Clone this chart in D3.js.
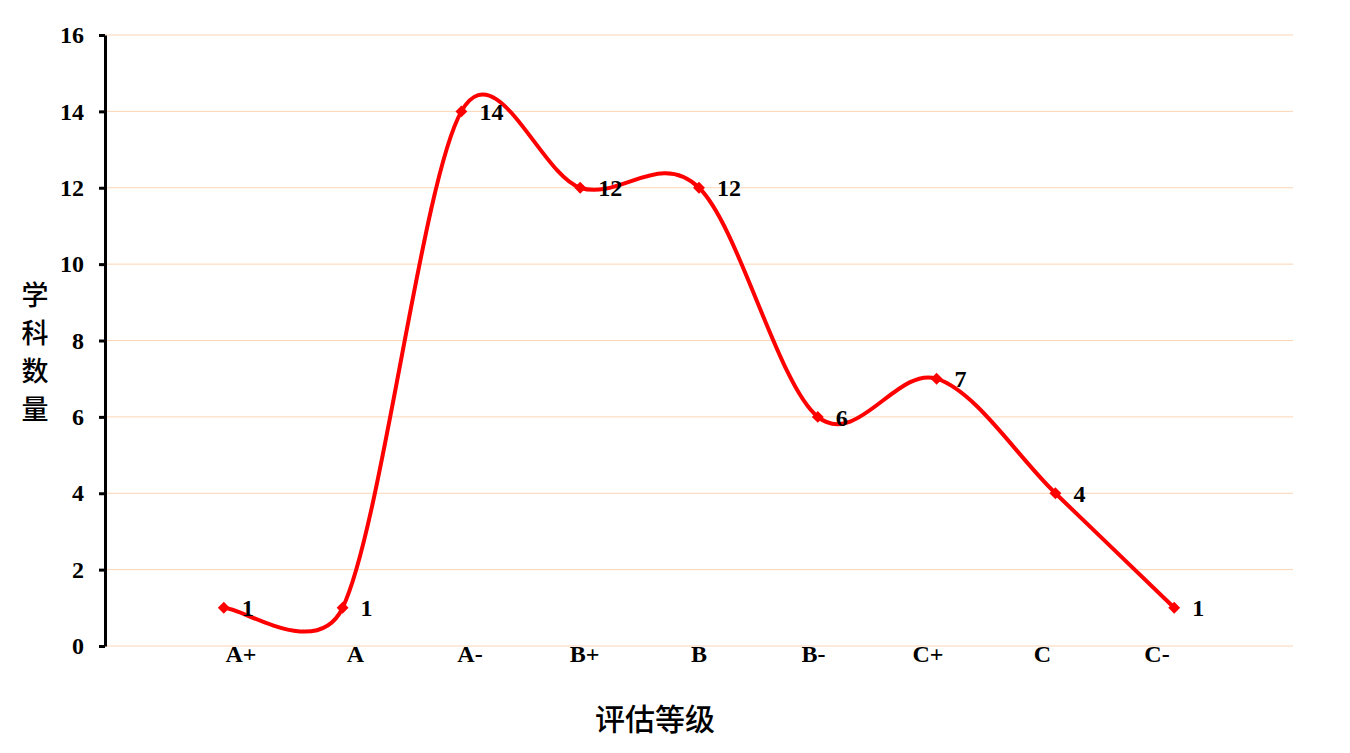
<!DOCTYPE html>
<html>
<head>
<meta charset="utf-8">
<script src="https://cdn.jsdelivr.net/npm/d3@7"></script>
<style>
  html, body { margin: 0; padding: 0; background: #fff; }
  svg { display: block; }
</style>
</head>
<body>
<svg id="chart" width="1350" height="753"></svg>
<script>
const categories = ["A+", "A", "A-", "B+", "B", "B-", "C+", "C", "C-"];
const values = [1, 1, 14, 12, 12, 6, 7, 4, 1];
const yTicks = [0, 2, 4, 6, 8, 10, 12, 14, 16];
const yTitleChars = ["学", "科", "数", "量"];
const xTitle = "评估等级";

const svg = d3.select("#chart");
const mLeft = 105, mRight = 1293, mTop = 35, mBottom = 646;

// points sit at positions 1..9 of a 10-interval axis
const x = d3.scaleLinear().domain([0, categories.length + 1]).range([mLeft, mRight]);
const xLabel = d3.scalePoint().domain(categories).range([241, 1157]);
const y = d3.scaleLinear().domain([0, 16]).range([mBottom, mTop]);

// Spreadsheet-style smoothing curve (Bezier with length-limited tangents)
function SmoothCurve(context) { this._context = context; }
SmoothCurve.prototype = {
  areaStart() { this._line = 0; },
  areaEnd() { this._line = NaN; },
  lineStart() { this._pts = []; },
  point(px, py) { this._pts.push([+px, +py]); },
  lineEnd() {
    const p = this._pts, c = this._context, n = p.length;
    if (!n) return;
    c.moveTo(p[0][0], p[0][1]);
    const dist = (a, b) => Math.hypot(a[0] - b[0], a[1] - b[1]);
    for (let i = 0; i < n - 1; i++) {
      const p0 = p[Math.max(i - 1, 0)], p1 = p[i], p2 = p[i + 1], p3 = p[Math.min(i + 2, n - 1)];
      const d12 = dist(p1, p2), d02 = dist(p0, p2), d13 = dist(p1, p3);
      let f1 = 1 / 6, f2 = 1 / 6;
      if (d02 / 6 >= d12 / 2 && d02 > 0) f1 = d12 / 2 / d02;
      if (d13 / 6 >= d12 / 2 && d13 > 0) f2 = d12 / 2 / d13;
      const b1 = [p1[0] + f1 * (p2[0] - p0[0]), p1[1] + f1 * (p2[1] - p0[1])];
      const b2 = [p2[0] - f2 * (p3[0] - p1[0]), p2[1] - f2 * (p3[1] - p1[1])];
      c.bezierCurveTo(b1[0], b1[1], b2[0], b2[1], p2[0], p2[1]);
    }
  }
};
const curveSmooth = ctx => new SmoothCurve(ctx);

// gridlines
svg.append("g")
  .selectAll("line")
  .data(yTicks)
  .join("line")
  .attr("x1", mLeft).attr("x2", mRight)
  .attr("y1", d => y(d)).attr("y2", d => y(d))
  .attr("stroke", "#fcd5b5").attr("stroke-width", 1);

// y axis
const yAxis = svg.append("g")
  .attr("transform", `translate(${mLeft},0)`)
  .call(d3.axisLeft(y).tickValues(yTicks).tickSize(6).tickPadding(15).tickSizeOuter(0));
yAxis.select(".domain").attr("stroke", "#000").attr("stroke-width", 3);
yAxis.selectAll(".tick line").attr("stroke", "#000").attr("stroke-width", 3);
yAxis.selectAll(".tick text")
  .attr("font-family", "'Liberation Serif', 'Times New Roman', serif")
  .attr("font-weight", "bold").attr("font-size", 24).attr("fill", "#000");

// x labels
svg.append("g")
  .selectAll("text")
  .data(categories)
  .join("text")
  .attr("x", d => xLabel(d))
  .attr("y", 662)
  .attr("text-anchor", "middle")
  .attr("font-family", "'Liberation Serif', 'Times New Roman', serif")
  .attr("font-weight", "bold").attr("font-size", 24).attr("fill", "#000")
  .text(d => d);

// line
const line = d3.line()
  .x((d, i) => x(i + 1))
  .y(d => y(d))
  .curve(curveSmooth);
svg.append("path")
  .datum(values)
  .attr("d", line)
  .attr("fill", "none").attr("stroke", "#ff0000").attr("stroke-width", 4);

// markers
svg.append("g")
  .selectAll("path")
  .data(values)
  .join("path")
  .attr("transform", (d, i) => `translate(${x(i + 1)},${y(d)})`)
  .attr("d", d3.symbol(d3.symbolDiamond2, 90)())
  .attr("fill", "#ff0000");

// data labels
svg.append("g")
  .selectAll("text")
  .data(values)
  .join("text")
  .attr("x", (d, i) => x(i + 1) + 18)
  .attr("y", d => y(d))
  .attr("dy", "0.36em")
  .attr("font-family", "'Liberation Serif', 'Times New Roman', serif")
  .attr("font-weight", "bold").attr("font-size", 24).attr("fill", "#000")
  .text(d => d);

// y title (stacked)
svg.append("g")
  .selectAll("text")
  .data(yTitleChars)
  .join("text")
  .attr("x", 35)
  .attr("y", (d, i) => 305 + i * 38)
  .attr("text-anchor", "middle")
  .attr("font-family", "'Noto Sans CJK SC', sans-serif")
  .attr("font-weight", "500").attr("font-size", 27).attr("fill", "#000")
  .text(d => d);

// x title
svg.append("text")
  .attr("x", 655).attr("y", 730)
  .attr("text-anchor", "middle")
  .attr("font-family", "'Noto Sans CJK SC', sans-serif")
  .attr("font-weight", "500").attr("font-size", 30).attr("fill", "#000")
  .text(xTitle);
</script>
</body>
</html>
